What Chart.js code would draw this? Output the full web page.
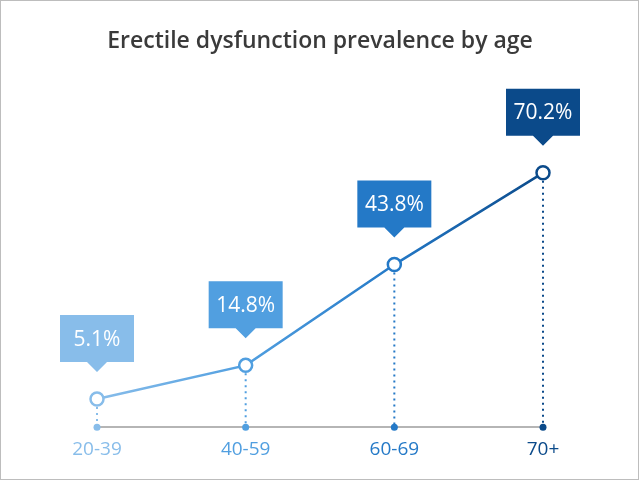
<!DOCTYPE html>
<html>
<head>
<meta charset="utf-8">
<script src="https://cdn.jsdelivr.net/npm/chart.js@4/dist/chart.umd.min.js"></script>
<style>
  html, body { margin: 0; padding: 0; background: #fff; }
  #wrap { width: 637px; height: 478px; border: 1px solid #bdbdbd; }
</style>
</head>
<body>
<div id="wrap"><canvas id="edChart" width="637" height="478"></canvas></div>
<script>
// Age groups and prevalence values
const ageGroups = ['20-39', '40-59', '60-69', '70+'];
const prevalence = [5.1, 14.8, 43.8, 70.2];
const valueLabels = ['5.1%', '14.8%', '43.8%', '70.2%'];
const groupColors = ['#88bdea', '#519fe0', '#2479c7', '#0b4a8a'];

const FONT = '"Open Sans", sans-serif';

// Callout boxes, dotted drop lines and axis dots
const calloutPlugin = {
    id: 'callouts',
    beforeDatasetsDraw(chart) {
        const ctx = chart.ctx;
        const meta = chart.getDatasetMeta(0);
        const bottom = chart.chartArea.bottom;
        ctx.save();
        meta.data.forEach(function(pt, i) {
            ctx.strokeStyle = groupColors[i];
            ctx.lineWidth = 2;
            ctx.setLineDash([2, 4]);
            ctx.beginPath();
            ctx.moveTo(pt.x, pt.y + 8);
            ctx.lineTo(pt.x, bottom);
            ctx.stroke();
            ctx.setLineDash([]);
            ctx.fillStyle = groupColors[i];
            ctx.beginPath();
            ctx.arc(pt.x, bottom, 3.5, 0, Math.PI * 2);
            ctx.fill();
        });
        ctx.restore();
    },
    afterDatasetsDraw(chart) {
        const ctx = chart.ctx;
        const meta = chart.getDatasetMeta(0);
        const w = 74, h = 47, tip = 10, gap = 27;
        ctx.save();
        meta.data.forEach(function(pt, i) {
            const tipY = pt.y - gap;
            const boxBottom = tipY - tip;
            const boxTop = boxBottom - h;
            const left = pt.x - w / 2;
            ctx.fillStyle = groupColors[i];
            ctx.beginPath();
            ctx.moveTo(left, boxTop);
            ctx.lineTo(left + w, boxTop);
            ctx.lineTo(left + w, boxBottom);
            ctx.lineTo(pt.x + tip, boxBottom);
            ctx.lineTo(pt.x, tipY);
            ctx.lineTo(pt.x - tip, boxBottom);
            ctx.lineTo(left, boxBottom);
            ctx.closePath();
            ctx.fill();
            ctx.fillStyle = '#ffffff';
            ctx.font = '21px ' + FONT;
            ctx.textAlign = 'center';
            ctx.textBaseline = 'middle';
            ctx.fillText(valueLabels[i], pt.x, boxTop + h / 2 + 1);
        });
        ctx.restore();
    }
};

function lineGradient(context) {
    const chart = context.chart;
    const area = chart.chartArea;
    if (!area) return groupColors[1];
    const g = chart.ctx.createLinearGradient(area.left, 0, area.right, 0);
    groupColors.forEach(function(c, i) {
        g.addColorStop(i / (groupColors.length - 1), c);
    });
    return g;
}

new Chart(document.getElementById('edChart'), {
    type: 'line',
    data: {
        labels: ageGroups,
        datasets: [{
            data: prevalence,
            borderColor: lineGradient,
            borderWidth: 2.5,
            tension: 0,
            pointRadius: 6.5,
            pointBorderWidth: 2.5,
            pointBackgroundColor: '#ffffff',
            pointBorderColor: groupColors
        }]
    },
    options: {
        responsive: false,
        animation: false,
        layout: { padding: { left: 96, right: 95, bottom: 15, top: 0 } },
        plugins: {
            legend: { display: false },
            tooltip: { enabled: false },
            title: {
                display: true,
                text: 'Erectile dysfunction prevalence by age',
                color: '#3a3a3a',
                font: { family: FONT, size: 23, weight: '600' },
                padding: { top: 27, bottom: 38 }
            }
        },
        scales: {
            x: {
                offset: false,
                grid: { display: false },
                border: { display: true, color: '#b5b5b5', width: 2 },
                ticks: {
                    color: groupColors,
                    padding: 3,
                    font: { family: FONT, size: 19 }
                }
            },
            y: {
                display: false,
                min: -3,
                max: 93
            }
        }
    },
    plugins: [calloutPlugin]
});
</script>
</body>
</html>
